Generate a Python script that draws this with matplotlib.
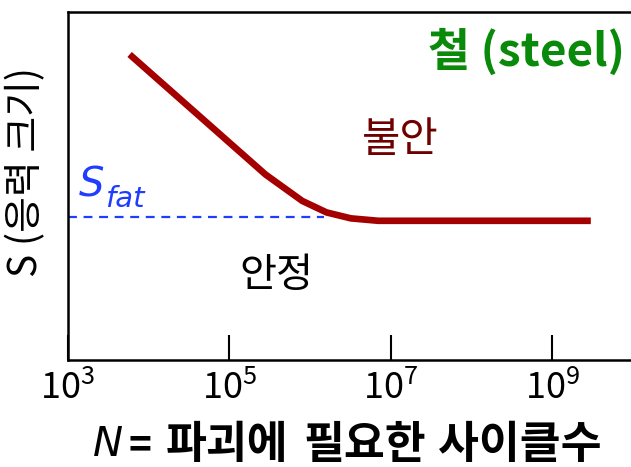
import matplotlib
matplotlib.use("Agg")
import matplotlib.pyplot as plt
import numpy as np

# S-N curve (S in arbitrary units 0..1)
N_cycles = [5.8e3, 2.8e5, 8.0e5, 1.6e6, 3.2e6, 7.0e6, 3.0e9]
S_stress = [0.878, 0.533, 0.457, 0.424, 0.407, 0.400, 0.400]
S_fat = 0.411
N_fat_end = 1.5e6
tick_pos = [1e3, 1e5, 1e7, 1e9]
tick_lab = [r"$\mathdefault{10^{3}}$", r"$\mathdefault{10^{5}}$",
            r"$\mathdefault{10^{7}}$", r"$\mathdefault{10^{9}}$"]
xlabel_words = ["=", "파괴에", "필요한", "사이클수"]
xlabel_left = [128, 166, 303, 438]  # pixel x of each word

kr = "Noto Sans CJK KR"
plt.rcParams["font.family"] = [kr, "DejaVu Sans"]

fig = plt.figure(figsize=(6.31, 4.67), dpi=100)
ax = fig.add_axes([68/631, 1-360/467, 565/631, 348/467])

ax.plot(N_cycles, S_stress, color="#a50000", lw=4.8, solid_capstyle="butt")
ax.plot([1e3, N_fat_end], [S_fat, S_fat], color="#1f3cff", lw=1.6, ls=(0, (4, 3)))

ax.set_xscale("log")
ax.set_xlim(1e3, 1e10)
ax.set_ylim(0, 1)
ax.set_xticks(tick_pos)
ax.set_xticklabels(tick_lab)
ax.minorticks_off()
ax.set_yticks([])
ax.tick_params(axis="x", direction="in", length=18, width=1.5, labelsize=26, pad=8)
for lab in ax.get_xticklabels():
    lab.set_fontweight("medium")
for sp in ax.spines.values():
    sp.set_linewidth(1.8)

ax.text(0.985, 0.885, "철 (steel)", transform=ax.transAxes, color="#0a8a0a",
        fontsize=33, fontweight="bold", ha="right", va="center")
ax.text(1.3e7, 0.632, "불안", color="#6e0000", fontsize=30, ha="center", va="center")
ax.text(3.8e5, 0.244, "안정", color="black", fontsize=29, ha="center", va="center")
ax.text(1.35e3, 0.471, "S", color="#1f3cff", fontsize=29, style="italic",
        family="DejaVu Sans", va="baseline")
ax.text(2.9e3, 0.440, "fat", color="#1f3cff", fontsize=21, style="italic",
        family="DejaVu Sans", va="baseline")

fig.text(26/631, 1-172/467, "S (응력 크기)", fontsize=28, rotation=90,
         ha="center", va="center")
fig.text(93/631, 1-445/467, "N", fontsize=29, style="italic", family="DejaVu Sans",
         ha="left", va="center")
for w, px in zip(xlabel_words, xlabel_left):
    fig.text(px/631, 1-445/467, w, fontsize=28 if w == "=" else 32,
             fontweight="bold", ha="left", va="center")

fig.savefig("out.png", dpi=100)
